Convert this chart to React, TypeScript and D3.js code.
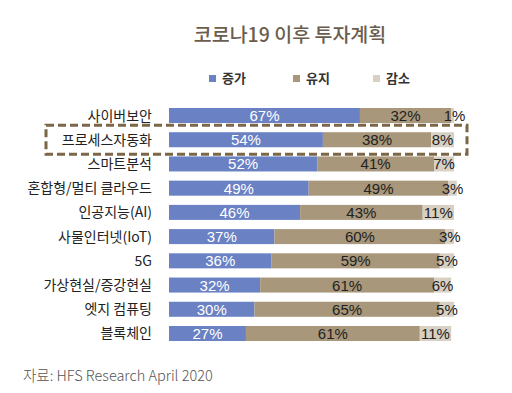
import React from "react";
import * as d3 from "d3";

const categories = [
  "사이버보안",
  "프로세스자동화",
  "스마트분석",
  "혼합형/멀티 클라우드",
  "인공지능(AI)",
  "사물인터넷(IoT)",
  "5G",
  "가상현실/증강현실",
  "엣지 컴퓨팅",
  "블록체인",
];
const increase = [67, 54, 52, 49, 46, 37, 36, 32, 30, 27];
const maintain = [32, 38, 41, 49, 43, 60, 59, 61, 65, 61];
const decrease = [1, 8, 7, 3, 11, 3, 5, 6, 5, 11];
const seriesNames = ["증가", "유지", "감소"];
const colors = ["#6a81c4", "#a8977a", "#d8d0c3"];
const highlighted = "프로세스자동화";

const W = 512;
const H = 393;
const korFont = "'Noto Sans CJK KR', 'Noto Sans', sans-serif";
const numFont = "'Liberation Sans', Arial, sans-serif";

export default function App() {
  const rows = categories.map((c, i) => ({
    cat: c,
    v0: increase[i],
    v1: maintain[i],
    v2: decrease[i],
  }));
  const layers = d3.stack<any>().keys(["v0", "v1", "v2"])(rows);

  const x = d3.scaleLinear().domain([0, 100]).range([169, 454]);
  const y = d3
    .scaleBand()
    .domain(categories)
    .range([108, 341])
    .paddingInner(0.38)
    .paddingOuter(0);
  const bw = y.bandwidth();

  const hy = y(highlighted)!;

  return (
    <svg
      width={W}
      height={H}
      style={{ position: "absolute", left: 0, top: 0, background: "#fff" }}
    >
      <text
        x={290}
        y={42}
        textAnchor="middle"
        fontFamily={korFont}
        fontSize={19.5}
        fontWeight={500}
        fill="#6b5d4d"
      >
        코로나19 이후 투자계획
      </text>

      {seriesNames.map((s, i) => {
        const lx = [209, 293, 373][i];
        return (
          <g key={s}>
            <rect x={lx} y={75} width={7} height={7} fill={colors[i]} />
            <text
              x={lx + 13}
              y={83}
              fontFamily={korFont}
              fontSize={13}
              fontWeight="bold"
              fill="#333"
            >
              {s}
            </text>
          </g>
        );
      })}

      {layers.map((layer, li) => (
        <g key={layer.key} fill={colors[li]}>
          {layer.map((d: any) => (
            <rect
              key={d.data.cat}
              x={x(d[0])}
              y={y(d.data.cat)}
              width={x(d[1]) - x(d[0])}
              height={bw}
            />
          ))}
        </g>
      ))}

      {layers.map((layer, li) => (
        <g key={"lab" + layer.key}>
          {layer.map((d: any) => (
            <text
              key={d.data.cat}
              x={(x(d[0]) + x(d[1])) / 2 + (li === 2 && d[1] - d[0] < 3 ? 2 : 0)}
              y={y(d.data.cat)! + bw / 2 + 5.5}
              textAnchor="middle"
              fontFamily={numFont}
              fontSize={15}
              fill={li === 0 ? "#fff" : "#222"}
            >
              {d[1] - d[0]}%
            </text>
          ))}
        </g>
      ))}

      {categories.map((c) => (
        <text
          key={c}
          x={152}
          y={y(c)! + bw / 2 + 5}
          textAnchor="end"
          fontFamily={korFont}
          fontSize={14}
          fill="#222"
        >
          {c}
        </text>
      ))}

      <rect
        x={46}
        y={hy - 7}
        width={421}
        height={bw + 14}
        fill="none"
        stroke="#7b6647"
        strokeWidth={3}
        strokeDasharray="8 4"
      />

      <text
        x={23}
        y={381}
        fontFamily={korFont}
        fontSize={14.5}
        fontWeight={300}
        fill="#555"
      >
        자료: HFS Research April 2020
      </text>
    </svg>
  );
}
